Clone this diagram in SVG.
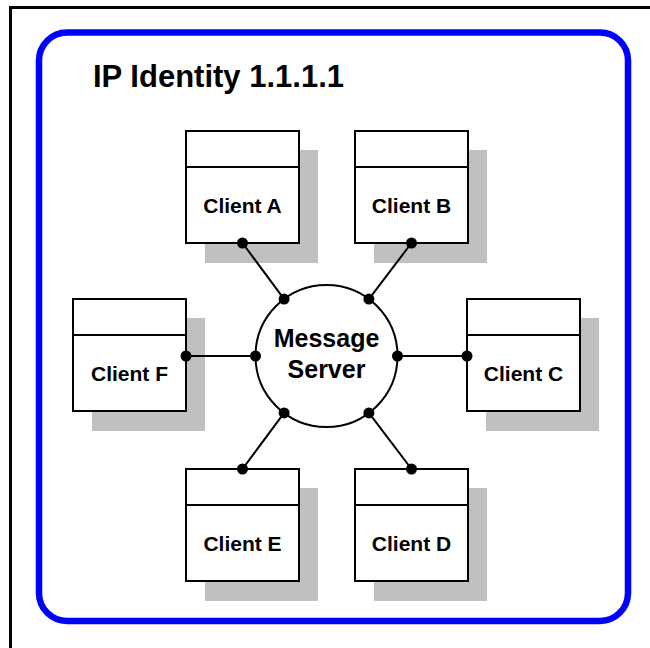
<svg xmlns="http://www.w3.org/2000/svg" width="650" height="648" viewBox="0 0 650 648">
  <style>
    .frame { fill: none; stroke: #000; stroke-width: 3; }
    .zone { fill: #fff; stroke: #0000ff; stroke-width: 6.5; }
    .shadow { fill: #c0c0c0; }
    .box { fill: #fff; stroke: #000; stroke-width: 2; }
    .wire { fill: none; stroke: #000; stroke-width: 2; }
    .dot { fill: #000; }
    text { font-family: "Liberation Sans", Arial, Helvetica, sans-serif; font-weight: bold; fill: #000; }
    .title { font-size: 31px; }
    .label { font-size: 21px; text-anchor: middle; }
    .server { font-size: 25px; text-anchor: middle; }
  </style>
  <defs>
    <!-- client block: box with header strip -->
    <g id="client">
      <rect class="box" x="0" y="0" width="113" height="112"/>
      <line class="wire" x1="0" y1="36" x2="113" y2="36"/>
    </g>
    <rect id="client-shadow" class="shadow" x="19" y="19" width="113" height="113"/>
  </defs>

  <rect width="650" height="648" fill="#fff"/>
  <!-- outer frame (right and bottom edges fall outside the canvas) -->
  <path class="frame" d="M10.5,660 V7.5 H660"/>

  <rect class="zone" x="39" y="32.5" width="589" height="588.5" rx="28" ry="28"/>
  <text class="title" x="93" y="87">IP Identity 1.1.1.1</text>

  <!-- drop shadows sit beneath everything else -->
  <g id="shadows">
    <use href="#client-shadow" x="186" y="131"/>
    <use href="#client-shadow" x="355" y="131"/>
    <use href="#client-shadow" x="73" y="299"/>
    <use href="#client-shadow" x="467" y="299"/>
    <use href="#client-shadow" x="186" y="469"/>
    <use href="#client-shadow" x="355" y="469"/>
  </g>

  <g id="connectors">
    <line class="wire" x1="242.5" y1="243" x2="284.1" y2="299.1"/>
    <line class="wire" x1="411.5" y1="243" x2="368.9" y2="299.1"/>
    <line class="wire" x1="186" y1="356" x2="255.5" y2="356"/>
    <line class="wire" x1="467.5" y1="356" x2="397.5" y2="356"/>
    <line class="wire" x1="242.5" y1="469" x2="284.1" y2="412.9"/>
    <line class="wire" x1="411.5" y1="469" x2="368.9" y2="412.9"/>
  </g>

  <g id="client-a">
    <use href="#client" x="186" y="131"/>
    <text class="label" x="242.5" y="212.5">Client A</text>
    <circle class="dot" cx="242.5" cy="243" r="5.5"/>
  </g>
  <g id="client-b">
    <use href="#client" x="355" y="131"/>
    <text class="label" x="411.5" y="212.5">Client B</text>
    <circle class="dot" cx="411.5" cy="243" r="5.5"/>
  </g>
  <g id="client-f">
    <use href="#client" x="73" y="299"/>
    <text class="label" x="129.5" y="381">Client F</text>
    <circle class="dot" cx="186" cy="356" r="5.5"/>
  </g>
  <g id="client-c">
    <use href="#client" x="467" y="299"/>
    <text class="label" x="523.5" y="381">Client C</text>
    <circle class="dot" cx="467" cy="356" r="5.5"/>
  </g>
  <g id="client-e">
    <use href="#client" x="186" y="469"/>
    <text class="label" x="242.5" y="550.5">Client E</text>
    <circle class="dot" cx="242.5" cy="469" r="5.5"/>
  </g>
  <g id="client-d">
    <use href="#client" x="355" y="469"/>
    <text class="label" x="411.5" y="550.5">Client D</text>
    <circle class="dot" cx="411.5" cy="469" r="5.5"/>
  </g>

  <g id="message-server">
    <circle class="box" cx="326.5" cy="356" r="71"/>
    <text class="server" x="326.5" y="347">Message</text>
    <text class="server" x="326.5" y="378">Server</text>
    <circle class="dot" cx="284.1" cy="299.1" r="5.5"/>
    <circle class="dot" cx="368.9" cy="299.1" r="5.5"/>
    <circle class="dot" cx="255.5" cy="356" r="5.5"/>
    <circle class="dot" cx="397.5" cy="356" r="5.5"/>
    <circle class="dot" cx="284.1" cy="412.9" r="5.5"/>
    <circle class="dot" cx="368.9" cy="412.9" r="5.5"/>
  </g>
</svg>
